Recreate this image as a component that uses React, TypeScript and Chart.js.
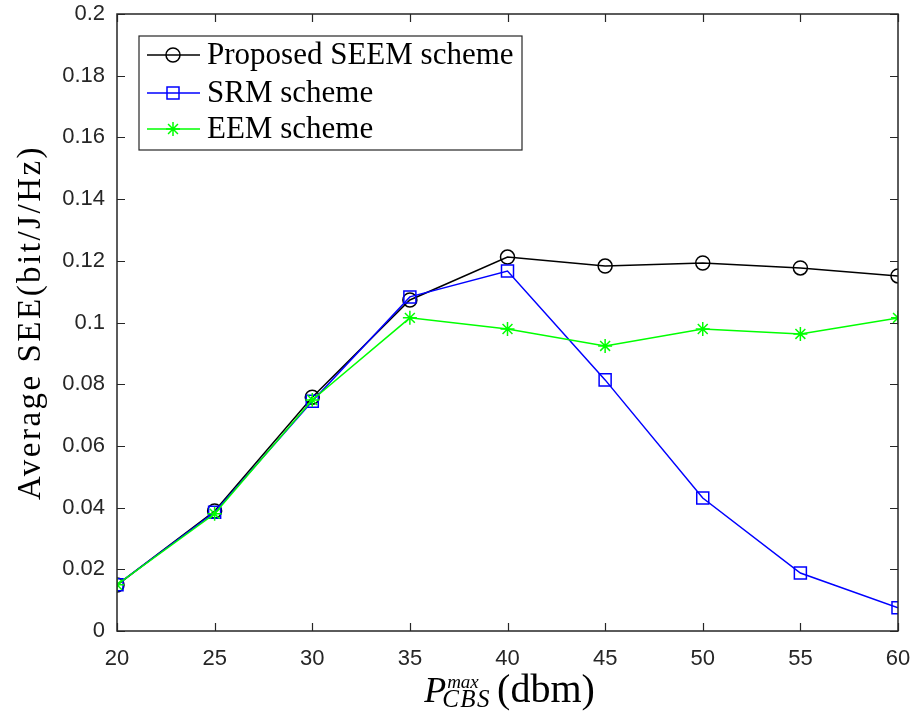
import React, { useEffect, useRef } from "react";
import { Chart, registerables } from "chart.js";

Chart.register(...registerables);

const xValues = [20, 25, 30, 35, 40, 45, 50, 55, 60];
const seemValues = [0.0149, 0.0389, 0.0758, 0.1073, 0.1212, 0.1183, 0.1193, 0.1177, 0.1151];
const srmValues = [0.015, 0.0385, 0.0745, 0.1083, 0.1167, 0.0814, 0.0431, 0.0188, 0.0075];
const eemValues = [0.015, 0.038, 0.0749, 0.1015, 0.0979, 0.0924, 0.0979, 0.0963, 0.1015];
const seriesNames = ["Proposed SEEM scheme", "SRM scheme", "EEM scheme"];
const seriesColors = ["#000000", "#0000ff", "#00ff00"];
const seriesMarkers = ["circle", "rect", "star"];
const yTitle = "Average SEE(bit/J/Hz)";
const xTitleMain = "P";
const xTitleSup = "max";
const xTitleSub = "CBS";
const xTitleUnit = "(dbm)";
const xMin = 20, xMax = 60, xStep = 5;
const yMin = 0, yMax = 0.2, yStep = 0.02;

const AXIS = "#262626";
const SERIF = "'Liberation Serif', 'Times New Roman', serif";
const SANS = "'Liberation Sans', Arial, sans-serif";

function drawMarker(ctx: CanvasRenderingContext2D, kind: string, x: number, y: number, color: string) {
  ctx.save();
  ctx.strokeStyle = color;
  ctx.lineWidth = 1.5;
  ctx.beginPath();
  if (kind === "circle") {
    ctx.arc(x, y, 7, 0, Math.PI * 2);
  } else if (kind === "rect") {
    ctx.rect(x - 6, y - 6, 12, 12);
  } else {
    const r = 7;
    for (let i = 0; i < 4; i++) {
      const a = (i * Math.PI) / 4;
      ctx.moveTo(x - r * Math.cos(a), y - r * Math.sin(a));
      ctx.lineTo(x + r * Math.cos(a), y + r * Math.sin(a));
    }
  }
  ctx.stroke();
  ctx.restore();
}

const decorPlugin = {
  id: "decor",
  afterDraw(chart: any) {
    const ctx: CanvasRenderingContext2D = chart.ctx;
    const { left, top, right, bottom } = chart.chartArea;
    const xs = chart.scales.x;
    const ys = chart.scales.y;
    ctx.save();
    // box
    ctx.strokeStyle = AXIS;
    ctx.lineWidth = 1.5;
    ctx.strokeRect(left, top, right - left, bottom - top);
    // inward ticks
    const tl = 8;
    ctx.beginPath();
    for (let v = xMin; v <= xMax + 1e-9; v += xStep) {
      const px = Math.round(xs.getPixelForValue(v)) + 0.5;
      ctx.moveTo(px, bottom);
      ctx.lineTo(px, bottom - tl);
      ctx.moveTo(px, top);
      ctx.lineTo(px, top + tl);
    }
    for (let i = 0; i <= Math.round((yMax - yMin) / yStep); i++) {
      const v = yMin + i * yStep;
      const py = Math.round(ys.getPixelForValue(v)) + 0.5;
      ctx.moveTo(left, py);
      ctx.lineTo(left + tl, py);
      ctx.moveTo(right, py);
      ctx.lineTo(right - tl, py);
    }
    ctx.lineWidth = 1.2;
    ctx.stroke();

    // legend
    const lx = left + 22, ly = top + 22, lw = 383, lh = 114;
    ctx.fillStyle = "#ffffff";
    ctx.fillRect(lx, ly, lw, lh);
    ctx.strokeStyle = AXIS;
    ctx.lineWidth = 1.2;
    ctx.strokeRect(lx, ly, lw, lh);
    const rowY = [19, 57, 93];
    ctx.font = `31px ${SERIF}`;
    ctx.textBaseline = "middle";
    ctx.textAlign = "left";
    for (let i = 0; i < seriesNames.length; i++) {
      const cy = ly + rowY[i];
      ctx.strokeStyle = seriesColors[i];
      ctx.lineWidth = 1.5;
      ctx.beginPath();
      ctx.moveTo(lx + 8, cy);
      ctx.lineTo(lx + 61, cy);
      ctx.stroke();
      drawMarker(ctx, seriesMarkers[i], lx + 34, cy, seriesColors[i]);
      ctx.fillStyle = "#000000";
      ctx.fillText(seriesNames[i], lx + 68, cy + 1);
    }

    // y title
    ctx.save();
    ctx.translate(31, (top + bottom) / 2);
    ctx.rotate(-Math.PI / 2);
    ctx.font = `33px ${SERIF}`;
    (ctx as any).letterSpacing = "2.5px";
    ctx.textAlign = "center";
    ctx.textBaseline = "middle";
    ctx.fillStyle = "#000000";
    ctx.fillText(yTitle, 0, 0);
    ctx.restore();

    // x title
    ctx.save();
    const base = 702;
    const mainFont = `italic 36px ${SERIF}`;
    const supFont = `italic 19px ${SERIF}`;
    const subFont = `italic 25px ${SERIF}`;
    const unitFont = `40px ${SERIF}`;
    ctx.fillStyle = "#000000";
    ctx.textBaseline = "alphabetic";
    ctx.textAlign = "left";
    ctx.font = mainFont;
    const wP = ctx.measureText(xTitleMain).width;
    ctx.font = subFont;
    (ctx as any).letterSpacing = "1.5px";
    const wSub = ctx.measureText(xTitleSub).width;
    (ctx as any).letterSpacing = "0px";
    ctx.font = supFont;
    const wSup = ctx.measureText(xTitleSup).width;
    const wScript = Math.max(wSup, wSub);
    ctx.font = unitFont;
    const wUnit = ctx.measureText(xTitleUnit).width;
    const total = wP - 1 + wScript + 3 + wUnit;
    let cx = (left + right) / 2 + 2 - total / 2;
    ctx.font = mainFont;
    ctx.fillText(xTitleMain, cx, base);
    cx += wP - 1;
    ctx.font = supFont;
    ctx.fillText(xTitleSup, cx + 2, base - 14);
    ctx.font = subFont;
    (ctx as any).letterSpacing = "1.5px";
    ctx.fillText(xTitleSub, cx - 3, base + 5);
    (ctx as any).letterSpacing = "0px";
    cx += wScript + 3;
    ctx.font = unitFont;
    ctx.fillText(xTitleUnit, cx, base);
    ctx.restore();
    ctx.restore();
  },
};

export default function App() {
  const ref = useRef<HTMLCanvasElement | null>(null);
  useEffect(() => {
    if (!ref.current) return;
    const series = [seemValues, srmValues, eemValues];
    const chart = new Chart(ref.current, {
      type: "line",
      data: {
        datasets: series.map((vals, i) => ({
          label: seriesNames[i],
          data: xValues.map((x, j) => ({ x, y: vals[j] })),
          borderColor: seriesColors[i],
          backgroundColor: "rgba(0,0,0,0)",
          borderWidth: 1.5,
          pointStyle: seriesMarkers[i] as any,
          pointRadius: seriesMarkers[i] === "rect" ? 8.5 : 7,
          pointBorderWidth: 1.5,
          pointBorderColor: seriesColors[i],
          pointBackgroundColor: "rgba(0,0,0,0)",
          tension: 0,
          fill: false,
          order: 3 - i,
        })),
      },
      options: {
        responsive: false,
        animation: false,
        layout: { padding: { top: 14, right: 15, left: 0, bottom: 0 } },
        plugins: { legend: { display: false }, tooltip: { enabled: false } },
        scales: {
          x: {
            type: "linear",
            min: xMin,
            max: xMax,
            grid: { display: false, drawTicks: false },
            border: { display: false },
            ticks: {
              stepSize: xStep,
              padding: 15,
              color: AXIS,
              font: { family: SANS, size: 22 },
              maxRotation: 0,
            },
            afterFit: (s: any) => {
              s.height = 83;
              s.paddingLeft = 0;
              s.paddingRight = 0;
            },
          },
          y: {
            type: "linear",
            min: yMin,
            max: yMax,
            grid: { display: false, drawTicks: false },
            border: { display: false },
            ticks: {
              stepSize: yStep,
              padding: 12,
              color: AXIS,
              font: { family: SANS, size: 22 },
              callback: (v: any) => String(Number(Number(v).toFixed(2))),
            },
            afterFit: (s: any) => {
              s.width = 117;
              s.paddingTop = 0;
              s.paddingBottom = 0;
            },
          },
        },
      },
      plugins: [decorPlugin],
    });
    return () => chart.destroy();
  }, []);
  return (
    <div style={{ position: "fixed", left: 0, top: 0, width: 913, height: 714, background: "#fff" }}>
      <canvas ref={ref} width={913} height={714} style={{ width: 913, height: 714, display: "block" }} />
    </div>
  );
}
